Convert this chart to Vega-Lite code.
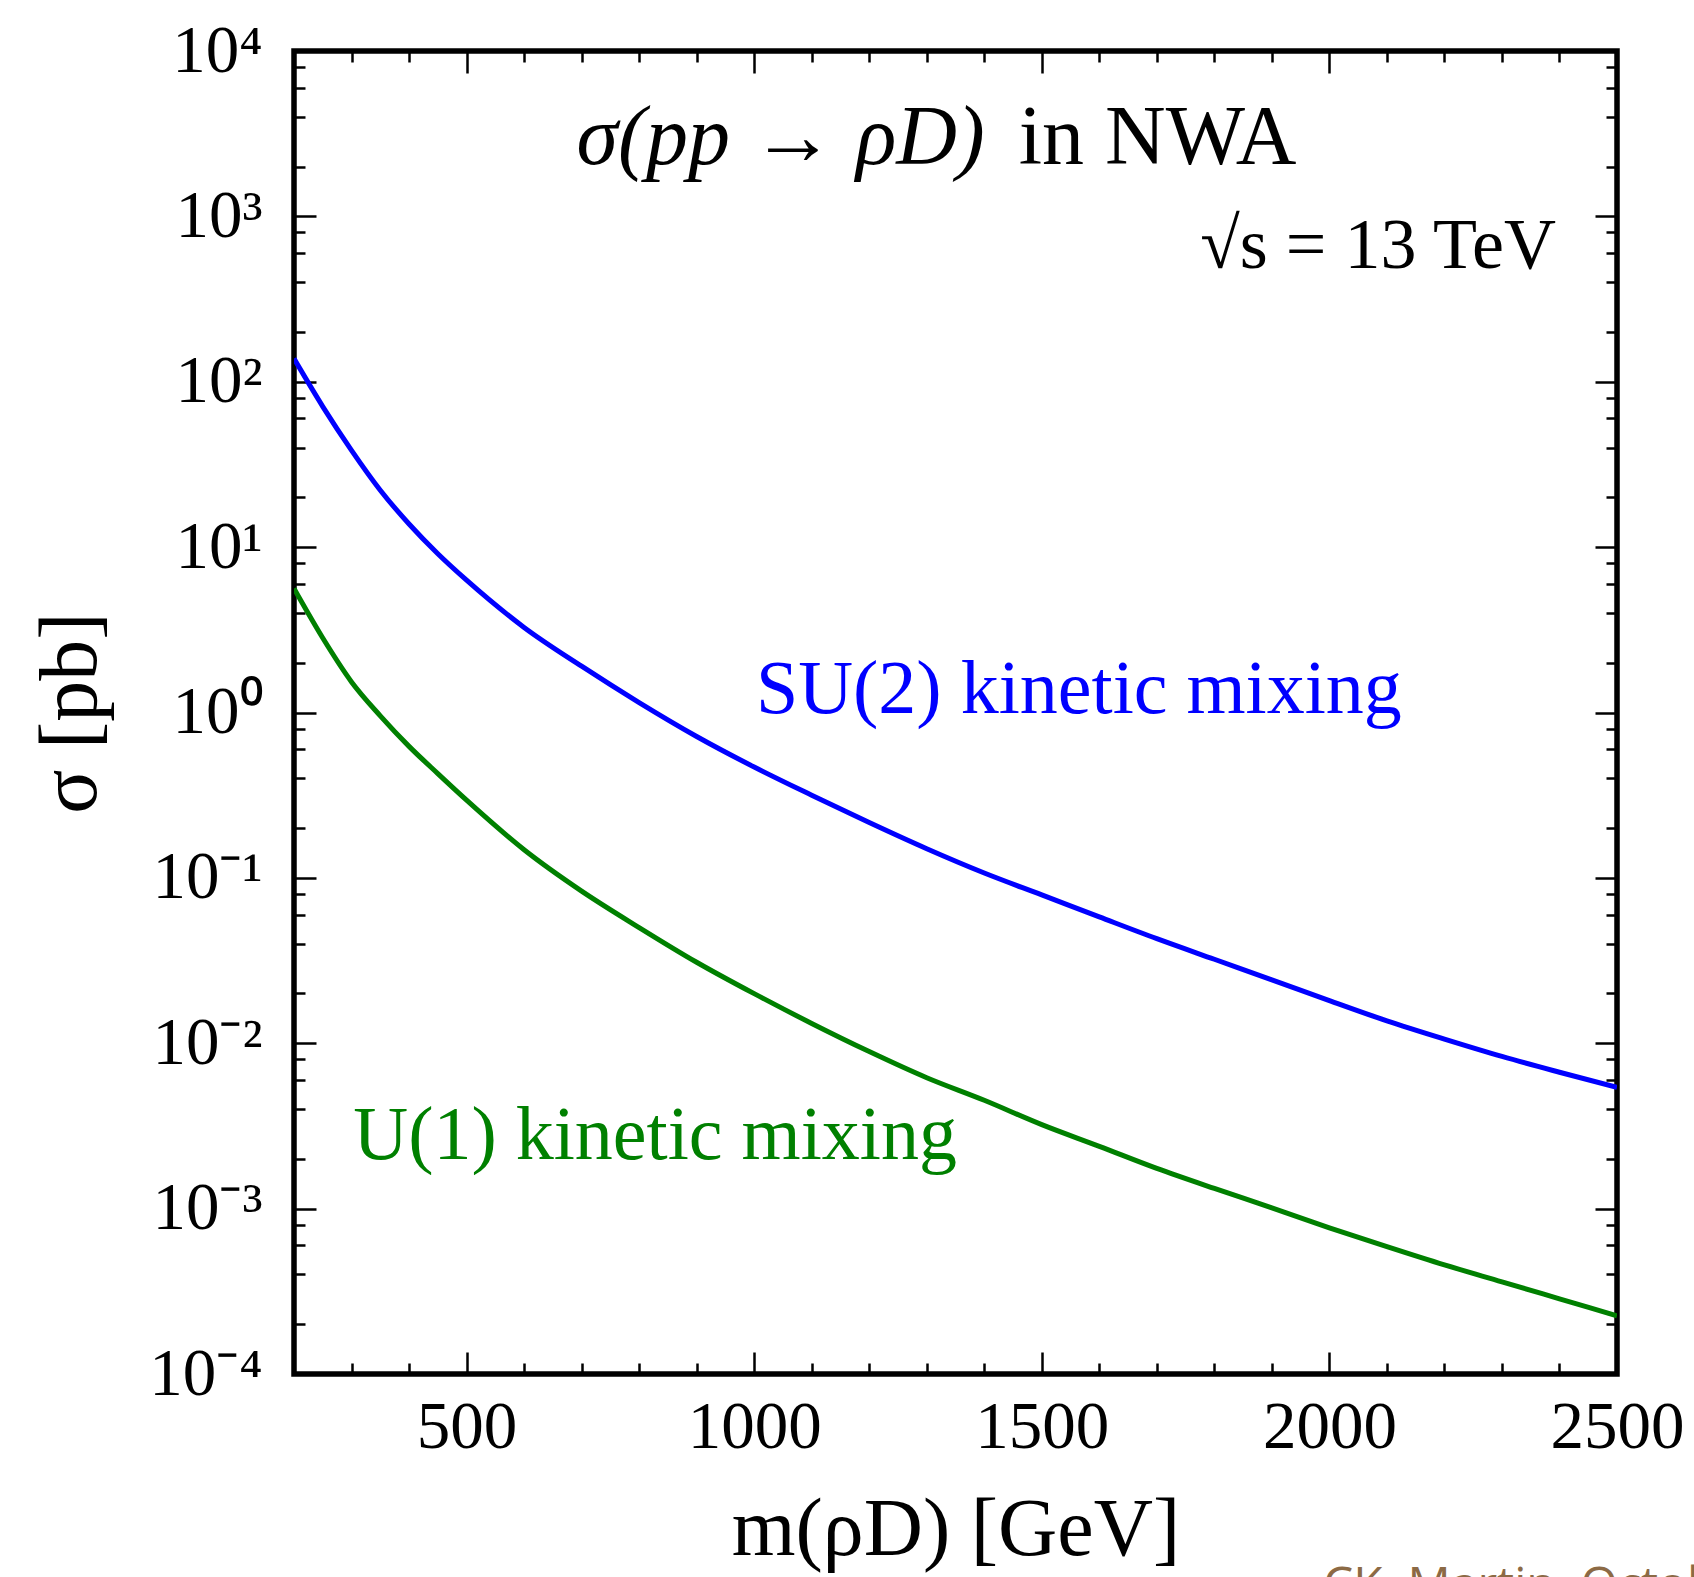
{
  "$schema": "https://vega.github.io/schema/vega-lite/v6.json",
  "width": 1323,
  "height": 1323,
  "autosize": {"type": "none"},
  "padding": {"left": 294, "top": 51, "right": 77, "bottom": 203},
  "background": "white",
  "config": {
    "view": {"stroke": "black", "strokeWidth": 5.5},
    "font": "Liberation Serif",
    "axis": {
      "domain": false,
      "grid": false,
      "tickColor": "black",
      "tickWidth": 2.5,
      "labelColor": "black",
      "labelFont": "Liberation Serif",
      "labelFontSize": 67,
      "labelOverlap": false,
      "labelFlush": false,
      "titleColor": "black",
      "titleFont": "Liberation Serif",
      "titleFontSize": 82,
      "titleFontWeight": "normal"
    }
  },
  "datasets": {
    "curves": [
      {"model": "SU(2)", "m": 200, "sigma": 138},
      {"model": "SU(2)", "m": 250, "sigma": 70.8},
      {"model": "SU(2)", "m": 300, "sigma": 38.5},
      {"model": "SU(2)", "m": 350, "sigma": 22.1},
      {"model": "SU(2)", "m": 400, "sigma": 13.8},
      {"model": "SU(2)", "m": 450, "sigma": 9.12},
      {"model": "SU(2)", "m": 500, "sigma": 6.31},
      {"model": "SU(2)", "m": 600, "sigma": 3.27},
      {"model": "SU(2)", "m": 700, "sigma": 1.905},
      {"model": "SU(2)", "m": 800, "sigma": 1.148},
      {"model": "SU(2)", "m": 900, "sigma": 0.716},
      {"model": "SU(2)", "m": 1000, "sigma": 0.468},
      {"model": "SU(2)", "m": 1100, "sigma": 0.316},
      {"model": "SU(2)", "m": 1200, "sigma": 0.216},
      {"model": "SU(2)", "m": 1300, "sigma": 0.150},
      {"model": "SU(2)", "m": 1400, "sigma": 0.107},
      {"model": "SU(2)", "m": 1500, "sigma": 0.0789},
      {"model": "SU(2)", "m": 1600, "sigma": 0.0581},
      {"model": "SU(2)", "m": 1700, "sigma": 0.0429},
      {"model": "SU(2)", "m": 1800, "sigma": 0.0322},
      {"model": "SU(2)", "m": 1900, "sigma": 0.0242},
      {"model": "SU(2)", "m": 2000, "sigma": 0.0181},
      {"model": "SU(2)", "m": 2100, "sigma": 0.01365},
      {"model": "SU(2)", "m": 2200, "sigma": 0.01059},
      {"model": "SU(2)", "m": 2300, "sigma": 0.00832},
      {"model": "SU(2)", "m": 2400, "sigma": 0.00668},
      {"model": "SU(2)", "m": 2500, "sigma": 0.00541},
      {"model": "U(1)", "m": 200, "sigma": 5.62},
      {"model": "U(1)", "m": 250, "sigma": 2.82},
      {"model": "U(1)", "m": 300, "sigma": 1.531},
      {"model": "U(1)", "m": 350, "sigma": 0.955},
      {"model": "U(1)", "m": 400, "sigma": 0.624},
      {"model": "U(1)", "m": 450, "sigma": 0.427},
      {"model": "U(1)", "m": 500, "sigma": 0.295},
      {"model": "U(1)", "m": 600, "sigma": 0.148},
      {"model": "U(1)", "m": 700, "sigma": 0.0832},
      {"model": "U(1)", "m": 800, "sigma": 0.0501},
      {"model": "U(1)", "m": 900, "sigma": 0.0309},
      {"model": "U(1)", "m": 1000, "sigma": 0.01995},
      {"model": "U(1)", "m": 1100, "sigma": 0.01318},
      {"model": "U(1)", "m": 1200, "sigma": 0.00891},
      {"model": "U(1)", "m": 1300, "sigma": 0.00619},
      {"model": "U(1)", "m": 1400, "sigma": 0.00452},
      {"model": "U(1)", "m": 1500, "sigma": 0.00322},
      {"model": "U(1)", "m": 1600, "sigma": 0.00238},
      {"model": "U(1)", "m": 1700, "sigma": 0.00175},
      {"model": "U(1)", "m": 1800, "sigma": 0.001324},
      {"model": "U(1)", "m": 1900, "sigma": 0.001012},
      {"model": "U(1)", "m": 2000, "sigma": 0.000766},
      {"model": "U(1)", "m": 2100, "sigma": 0.000589},
      {"model": "U(1)", "m": 2200, "sigma": 0.000457},
      {"model": "U(1)", "m": 2300, "sigma": 0.000361},
      {"model": "U(1)", "m": 2400, "sigma": 0.000285},
      {"model": "U(1)", "m": 2500, "sigma": 0.000225}
    ],
    "notes": [
      {"key": "title1", "text": "σ(pp → ρD)", "m": 1401, "sigma": 2063},
      {"key": "title2", "text": "in NWA", "m": 1460, "sigma": 2063},
      {"key": "energy", "text": "√s = 13 TeV", "m": 2394, "sigma": 486},
      {"key": "su2", "text": "SU(2) kinetic mixing", "m": 1003, "sigma": 0.99},
      {"key": "u1", "text": "U(1) kinetic mixing", "m": 303, "sigma": 0.002},
      {"key": "credit", "text": "CK, Martin, October", "m": 1989, "sigma": 0.0000072}
    ]
  },
  "layer": [
    {
      "data": {"name": "curves"},
      "mark": {"type": "line", "strokeWidth": 5, "clip": true, "interpolate": "monotone"},
      "encoding": {
        "x": {
          "field": "m", "type": "quantitative",
          "scale": {"domain": [200, 2500], "nice": false, "zero": false},
          "axis": {
            "orient": "bottom",
            "values": [300, 400, 500, 600, 700, 800, 900, 1000, 1100, 1200, 1300, 1400, 1500, 1600, 1700, 1800, 1900, 2000, 2100, 2200, 2300, 2400, 2500],
            "labelExpr": "datum.value % 500 == 0 ? format(datum.value, 'd') : ''",
            "tickSize": {"condition": {"test": "datum.value % 500 == 0", "value": -22}, "value": -11},
            "labelPadding": 42,
            "title": "m(ρD) [GeV]",
            "titlePadding": 18
          }
        },
        "y": {
          "field": "sigma", "type": "quantitative",
          "scale": {"type": "log", "domain": [0.0001, 10000], "nice": false},
          "axis": {
            "orient": "left",
            "values": [0.0001, 0.0002, 0.0004, 0.0006, 0.0008, 0.001, 0.002, 0.004, 0.006, 0.008, 0.01, 0.02, 0.04, 0.06, 0.08, 0.1, 0.2, 0.4, 0.6, 0.8, 1, 2, 4, 6, 8, 10, 20, 40, 60, 80, 100, 200, 400, 600, 800, 1000, 2000, 4000, 6000, 8000, 10000],
            "labelExpr": "datum.value == 10000 ? '10⁴' : datum.value == 1000 ? '10³' : datum.value == 100 ? '10²' : datum.value == 10 ? '10¹' : datum.value == 1 ? '10⁰' : datum.value == 0.1 ? '10⁻¹' : datum.value == 0.01 ? '10⁻²' : datum.value == 0.001 ? '10⁻³' : datum.value == 0.0001 ? '10⁻⁴' : ''",
            "tickSize": {"condition": {"test": "indexof([0.0001, 0.001, 0.01, 0.1, 1, 10, 100, 1000, 10000], datum.value) >= 0", "value": -22}, "value": -11},
            "labelPadding": 54,
            "title": "σ [pb]",
            "titlePadding": 36
          }
        },
        "color": {
          "field": "model", "type": "nominal",
          "scale": {"domain": ["SU(2)", "U(1)"], "range": ["#0000ff", "#008000"]},
          "legend": null
        }
      }
    },
    {
      "data": {"name": "curves"},
      "mark": {"type": "line", "strokeOpacity": 0},
      "encoding": {
        "x": {
          "field": "m", "type": "quantitative",
          "axis": {
            "orient": "top",
            "values": [300, 400, 500, 600, 700, 800, 900, 1000, 1100, 1200, 1300, 1400, 1500, 1600, 1700, 1800, 1900, 2000, 2100, 2200, 2300, 2400, 2500],
            "labels": false,
            "tickSize": {"condition": {"test": "datum.value % 500 == 0", "value": -22}, "value": -11},
            "title": null
          }
        },
        "y": {
          "field": "sigma", "type": "quantitative",
          "axis": {
            "orient": "right",
            "values": [0.0001, 0.0002, 0.0004, 0.0006, 0.0008, 0.001, 0.002, 0.004, 0.006, 0.008, 0.01, 0.02, 0.04, 0.06, 0.08, 0.1, 0.2, 0.4, 0.6, 0.8, 1, 2, 4, 6, 8, 10, 20, 40, 60, 80, 100, 200, 400, 600, 800, 1000, 2000, 4000, 6000, 8000, 10000],
            "labels": false,
            "tickSize": {"condition": {"test": "indexof([0.0001, 0.001, 0.01, 0.1, 1, 10, 100, 1000, 10000], datum.value) >= 0", "value": -22}, "value": -11},
            "title": null
          }
        },
        "detail": {"field": "model", "type": "nominal"}
      }
    },
    {
      "data": {"name": "notes"},
      "transform": [{"filter": "datum.key == 'title1'"}],
      "mark": {"type": "text", "align": "right", "baseline": "alphabetic", "fontSize": 84, "fontStyle": "italic", "font": "Liberation Serif", "color": "black"},
      "encoding": {
        "x": {"field": "m", "type": "quantitative", "axis": null},
        "y": {"field": "sigma", "type": "quantitative", "axis": null},
        "text": {"field": "text"}
      }
    },
    {
      "data": {"name": "notes"},
      "transform": [{"filter": "datum.key == 'title2'"}],
      "mark": {"type": "text", "align": "left", "baseline": "alphabetic", "fontSize": 84, "font": "Liberation Serif", "color": "black"},
      "encoding": {
        "x": {"field": "m", "type": "quantitative", "axis": null},
        "y": {"field": "sigma", "type": "quantitative", "axis": null},
        "text": {"field": "text"}
      }
    },
    {
      "data": {"name": "notes"},
      "transform": [{"filter": "datum.key == 'energy'"}],
      "mark": {"type": "text", "align": "right", "baseline": "alphabetic", "fontSize": 72, "font": "Liberation Serif", "color": "black"},
      "encoding": {
        "x": {"field": "m", "type": "quantitative", "axis": null},
        "y": {"field": "sigma", "type": "quantitative", "axis": null},
        "text": {"field": "text"}
      }
    },
    {
      "data": {"name": "notes"},
      "transform": [{"filter": "datum.key == 'su2'"}],
      "mark": {"type": "text", "align": "left", "baseline": "alphabetic", "fontSize": 76, "font": "Liberation Serif", "color": "#0000ff"},
      "encoding": {
        "x": {"field": "m", "type": "quantitative", "axis": null},
        "y": {"field": "sigma", "type": "quantitative", "axis": null},
        "text": {"field": "text"}
      }
    },
    {
      "data": {"name": "notes"},
      "transform": [{"filter": "datum.key == 'u1'"}],
      "mark": {"type": "text", "align": "left", "baseline": "alphabetic", "fontSize": 76, "font": "Liberation Serif", "color": "#008000"},
      "encoding": {
        "x": {"field": "m", "type": "quantitative", "axis": null},
        "y": {"field": "sigma", "type": "quantitative", "axis": null},
        "text": {"field": "text"}
      }
    },
    {
      "data": {"name": "notes"},
      "transform": [{"filter": "datum.key == 'credit'"}],
      "mark": {"type": "text", "align": "left", "baseline": "top", "fontSize": 48, "font": "Open Sans", "color": "#8c6a45"},
      "encoding": {
        "x": {"field": "m", "type": "quantitative", "axis": null},
        "y": {"field": "sigma", "type": "quantitative", "axis": null},
        "text": {"field": "text"}
      }
    }
  ],
  "resolve": {"axis": {"x": "independent", "y": "independent"}}
}
